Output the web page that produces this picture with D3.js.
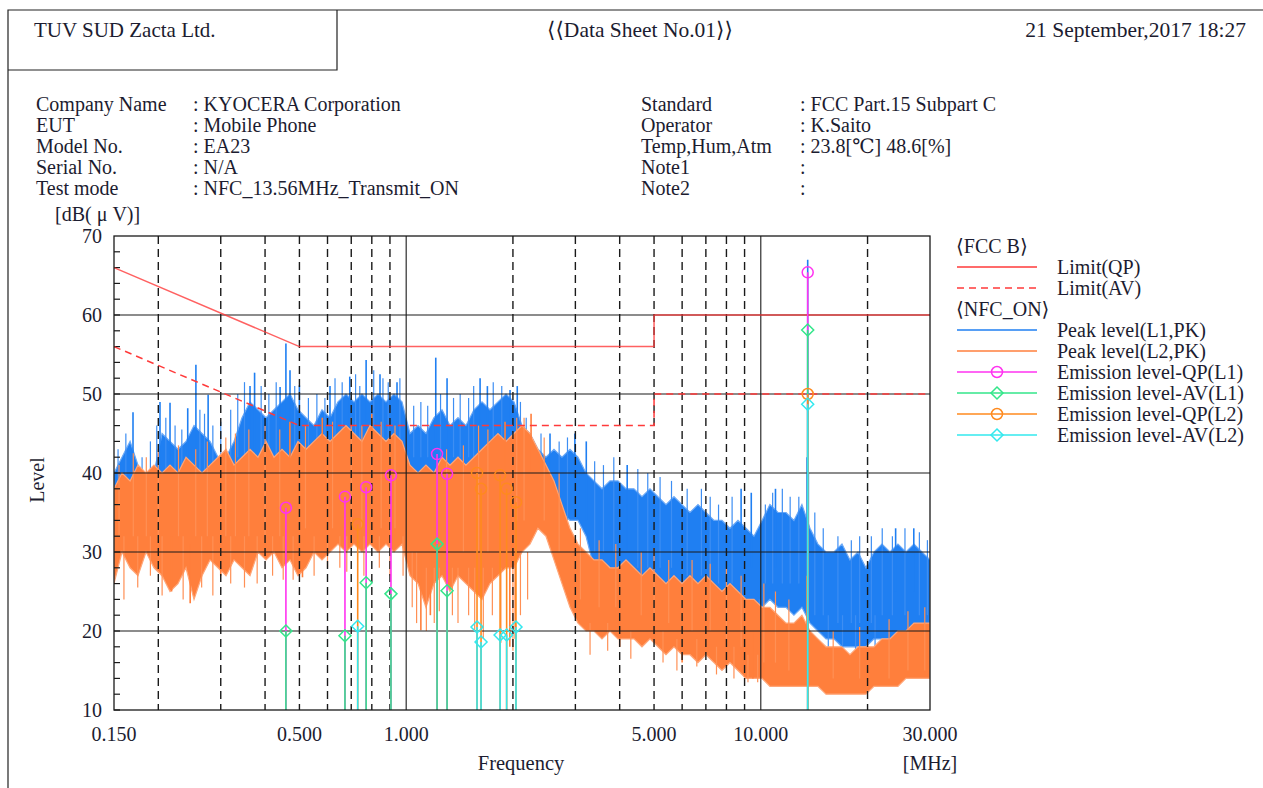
<!DOCTYPE html>
<html>
<head>
<meta charset="utf-8">
<script src="https://cdn.jsdelivr.net/npm/d3@7"></script>
<style>
  body { margin: 0; background: #fff; }
  svg { display: block; }
  text { font-family: "Liberation Serif", "DejaVu Serif", serif; fill: #1c1c30; }
</style>
</head>
<body>
<svg id="sheet" width="1263" height="788"></svg>
<script>
// frequency grid (MHz) for the two peak-level traces
const freqs = [
  0.150,0.158,0.1665,0.1753,0.1847,0.1945,0.2049,0.2158,0.2273,0.2394,
  0.2522,0.2656,0.2798,0.2947,0.3104,0.3270,0.3444,0.3628,0.3821,0.4025,
  0.4239,0.4465,0.4703,0.4954,0.5218,0.5496,0.5789,0.6098,0.6423,0.6765,
  0.7126,0.7506,0.7906,0.8327,0.8771,0.9239,0.9731,1.025,1.080,1.137,
  1.198,1.262,1.329,1.400,1.474,1.553,1.636,1.723,1.815,1.912,
  2.014,2.121,2.234,2.353,2.479,2.611,2.750,2.897,3.051,3.214,
  3.385,3.566,3.756,3.956,4.167,4.389,4.623,4.870,5.129,5.403,
  5.691,5.994,6.314,6.651,7.005,7.379,7.772,8.187,8.623,9.083,
  9.567,10.08,10.61,11.18,11.78,12.40,13.06,13.76,14.49,15.27,
  16.08,16.94,17.84,18.79,19.79,20.85,21.96,23.13,24.36,25.66,
  27.03,28.47,30.00
];

// Peak level L1 (blue): upper and lower edge of the noise band, dB(uV)
const l1High = [
  40,42,44,41,38,40,45,44,43,44,
  46,45,44,42,42,44,47,49,48,47,
  48,49,50,48,47,46,48,47,49,50,
  49,50,49,50,49,50,49,45,46,45,
  47,48,46,47,46,48,49,48,49,50,
  49,46,45,43,42,43,42,43,42,40,
  39,38,39,39,38,38,37,38,37,36,
  37,36,35,36,35,34,34,33,34,33,
  32,34,36,35,35,34,36,33,31,30,
  30,31,29,30,28,30,31,30,31,30,
  31,30,29
];
const l1Low = [
  36,38,39,35,33,34,36,37,32,36,
  38,37,37,36,37,39,41,42,41,39,
  40,41,40,39,39,40,40,41,40,41,
  41,42,41,42,41,42,41,39,40,39,
  40,40,40,41,40,41,41,41,42,42,
  41,40,38,36,35,35,35,34,34,32,
  28,27,27,27,26,26,26,26,25,25,
  25,25,24,24,24,24,23,23,23,23,
  22,23,24,23,23,22,23,21,20,19,
  19,18,18,18,18,19,19,19,20,20,
  20,20,20
];

// Peak level L2 (orange)
const l2High = [
  38,40,39,41,40,41,40,41,40,42,
  41,40,41,42,43,41,42,43,42,44,
  42,43,42,44,43,44,45,44,45,46,
  45,44,46,45,44,45,44,41,40,41,
  40,42,41,42,41,42,43,44,45,44,
  45,46,45,43,41,39,36,33,31,30,
  29,29,28,28,29,28,27,28,27,26,
  27,26,27,26,27,26,25,26,25,24,
  24,23,23,22,21,21,22,20,19,18,
  18,18,17,18,18,18,19,19,20,20,
  21,21,21
];
const l2Low = [
  26,30,28,27,30,28,27,25,26,28,
  24,27,29,28,27,29,28,27,30,29,
  30,28,29,27,28,30,29,30,31,30,
  31,30,31,30,31,30,31,27,26,23,
  26,27,25,27,26,25,24,26,27,28,
  28,30,31,33,32,29,26,23,21,20,
  20,19,20,19,19,19,18,19,18,17,
  18,17,17,16,17,16,15,16,15,14,
  14,14,13,13,13,13,13,13,13,12,
  12,12,12,12,12,13,13,13,13,14,
  14,14,14
];

// narrow excursions of the traces [MHz, from dB, to dB]
const l1Spikes = [
  [0.1697,40,47.7],[0.2022,40,49],[0.2158,40,48.9],[0.2421,40,48.2],[0.2553,40,53.7],
  [0.2764,40,49.9],[0.3628,42,51],[0.3737,42,52.7],[0.4410,42,50.9],[0.458,42,56.4],
  [0.4703,42,53],[0.4998,42,51.1],[0.6098,42,51],[0.6933,42,52.2],[0.771,42,54.3],
  [0.8437,42,52.5],[0.9422,42,51.5],[1.2118,42,54.6],[1.304,42,52],[1.6159,42,52],
  [1.6943,42,51],[1.9628,42,50.5],[2.057,42,51],[2.5445,38,45],[2.99,38,45],
  [3.22,34,44],[4.2,30,41],[8.8,28,38],[9.4,28,37.5],[11.0,28,38],
  [13.50,22,42],[13.56,22,67],[13.62,22,40],[24,25,33],[27,25,33]
];
const l1Fine = [
  [0.154,38,43],[0.162,38,45],[0.180,36,42],[0.190,36,44],[0.198,38,46],[0.210,38,47],
  [0.223,38,46],[0.233,38,45.5],[0.262,40,48],[0.270,40,47.5],[0.285,40,46],[0.300,40,46.5],
  [0.320,40,48],[0.335,42,50],[0.350,42,51.5],[0.390,42,51],[0.410,42,50],[0.430,42,51.5],
  [0.485,42,51],[0.53,42,49.5],[0.56,42,50],[0.59,42,49.5],[0.63,42,52],[0.66,42,51.5],
  [0.72,42,52.5],[0.74,42,51],[0.81,42,53],[0.86,42,52],[0.89,42,51.5],[0.96,42,52],
  [1.05,42,48.5],[1.10,42,49],[1.15,42,48.5],[1.25,42,50],[1.36,42,49.5],[1.42,42,50],
  [1.50,42,49.5],[1.55,42,51],[1.76,42,51.5],[1.86,42,51],[2.10,40,49],[2.18,40,47],
  [2.40,36,45],[2.70,34,44],[2.85,34,44.5],[3.40,30,41.5],[3.60,30,41],[3.85,30,42],
  [4.5,28,40.5],[4.8,28,40],[5.2,28,39.5],[5.6,28,39],[6.2,27,38],[6.8,27,38],
  [7.2,26,37],[7.6,26,36],[8.3,26,37],[10.3,26,36],[10.8,26,37.5],[11.5,26,38],
  [12.1,26,37],[12.8,26,37],[14.2,22,35],[15.0,22,33],[16.5,21,32],[18.0,21,31.5],
  [19.0,21,32],[20.5,21,32],[22.0,22,33],[23.5,22,32],[25.5,22,33],[28.0,22,32.5],
  [29.5,22,31.5],[15.5,17,22],[17.0,16.5,22],[18.5,17,22],[21,17.5,22],[8.0,21,25],
  [9.9,20,24],[7.0,22,26],[4.4,23,28]
];
const l2Spikes = [
  [0.47,40,46.5],[0.58,40,47],[0.80,40,47.5],[1.9,40,46.5],[2.25,40,47.5],
  [0.218,25,32],[0.246,23.5,31],[0.300,27,32],[0.510,26.8,32],[1.100,20.1,30],
  [1.170,22,30],[1.960,18,30],[2.030,19,30],[4.0,18,24],[6.0,16,22],
  [9.0,14.2,20],[9.5,14,20],[13.50,14,27],[13.56,14,29.5]
];
const l2Fine = [
  [0.155,32,41],[0.170,32,42.5],[0.185,32,42],[0.200,32,43],[0.228,32,43.5],[0.255,32,43],
  [0.275,32,44],[0.310,32,44.5],[0.33,32,45],[0.36,32,45.5],[0.40,32,46],[0.44,32,45.5],
  [0.52,33,46],[0.62,33,46.5],[0.70,33,47],[0.75,33,46],[0.85,33,46.5],[0.93,33,46],
  [1.3,30,43],[1.45,30,43.5],[1.60,30,46],[1.70,30,45.5],[2.05,34,47],[2.15,34,47],
  [2.45,34,44.5],[2.7,30,40],[3.1,24,33],[3.5,23,31.5],[3.9,23,31],[4.6,22,30],
  [5.0,22,30.5],[5.5,21,29],[6.4,20,29],[7.2,20,28.5],[8.0,19,28],[8.8,18,27],
  [10.2,16,26],[11.0,16,25],[12.0,15,24],[16,14,20],[19,14,20.5],[23,14,21.5],
  [26,15,22.5],[29,15,23],
  [0.16,24,32],[0.175,25.5,32],[0.19,27,32],[0.205,24.5,32],[0.235,24,32],[0.265,25.5,32],
  [0.285,24.5,32],[0.32,26,32],[0.35,25.5,32],[0.38,26,32],[0.42,27,32],[0.45,26.5,32],
  [0.48,26.5,32],[0.55,27,32],[0.60,28,32],[0.65,28,32],[0.68,27.5,32],[0.76,27,32],
  [0.84,28,32],[0.90,27,32],[0.98,27,32],[1.04,23,30],[1.07,21,30],[1.14,20,28],
  [1.20,21,28],[1.24,22.5,28],[1.35,22,28],[1.40,21,28],[1.50,22,28],[1.56,20,28],
  [1.65,19,28],[1.75,22,28],[1.85,18.5,28],[2.00,17.5,28],[2.10,22,30],[2.20,24,30],
  [3.3,17,21],[3.7,17.5,21],[4.3,16.5,20],[5.3,16,20],[5.8,15,19],[6.6,15.5,19],
  [7.5,14.5,18],[8.4,14,18],[9.2,13.5,17],[9.8,13.5,17]
];

// final measurements
const l1Freqs = [0.458, 0.672, 0.771, 0.906, 1.222, 1.304, 13.56];
const l1QP = [35.6, 37.0, 38.2, 39.7, 42.4, 39.9, 65.4];
const l1AV = [20.0, 19.4, 26.1, 24.7, 31.0, 25.1, 58.1];
const l2Freqs = [0.730, 1.584, 1.626, 1.840, 1.920, 2.040, 13.56];
const l2QP = [33.5, 40.0, 38.0, 39.7, 38.0, 36.3, 50.0];
const l2AV = [20.6, 20.5, 18.6, 19.5, 19.5, 20.5, 48.7];

// FCC class B conducted limits
const limitQP = [[0.15,66],[0.5,56],[5,56],[5,60],[30,60]];
const limitAV = [[0.15,56],[0.5,46],[5,46],[5,50],[30,50]];

const yTicks = [10, 20, 30, 40, 50, 60, 70];
const xTicks = [0.15, 0.5, 1, 5, 10, 30];
const xTickLabels = ["0.150", "0.500", "1.000", "5.000", "10.000", "30.000"];
const minorFreqs = [0.2,0.3,0.4,0.5,0.6,0.7,0.8,0.9,2,3,4,5,6,7,8,9,20];
const majorFreqs = [1, 10];

const infoLeft = [
  ["Company Name", ": KYOCERA Corporation"],
  ["EUT", ": Mobile Phone"],
  ["Model No.", ": EA23"],
  ["Serial No.", ": N/A"],
  ["Test mode", ": NFC_13.56MHz_Transmit_ON"],
];
const infoRight = [
  ["Standard", ": FCC Part.15 Subpart C"],
  ["Operator", ": K.Saito"],
  ["Temp,Hum,Atm", ": 23.8[℃] 48.6[%]"],
  ["Note1", ":"],
  ["Note2", ":"],
];

const colors = {
  limit: "#ff3a3a",
  l1: "#1f7ff2",
  l2: "#ff7f3c",
  qpL1: "#ff33f0",
  avL1: "#33e68a",
  qpL2: "#ff8a1e",
  avL2: "#33e8ee",
};

const svg = d3.select("#sheet");

// page frame and header
svg.append("path")
  .attr("d", "M8,788V10H1263M8,70H337V10")
  .attr("fill", "none").attr("stroke", "#222").attr("stroke-width", 1.2);

svg.append("text").attr("x", 34).attr("y", 37).attr("font-size", 21).text("TUV SUD Zacta Ltd.");
svg.append("text").attr("x", 640).attr("y", 37).attr("font-size", 21.5).attr("text-anchor", "middle")
  .text("⟨⟨Data Sheet No.01⟩⟩");
svg.append("text").attr("x", 1246).attr("y", 37).attr("font-size", 21.5).attr("text-anchor", "end")
  .text("21 September,2017 18:27");

const info = (rows, x0, x1) => {
  rows.forEach(([k, v], i) => {
    svg.append("text").attr("x", x0).attr("y", 111 + i * 21).attr("font-size", 20).text(k);
    svg.append("text").attr("x", x1).attr("y", 111 + i * 21).attr("font-size", 20).text(v);
  });
};
info(infoLeft, 36, 193);
info(infoRight, 641, 800);

// plot
const pl = 114, pr = 930, pt = 236, pb = 710;
const x = d3.scaleLog().domain([0.15, 30]).range([pl, pr]);
const y = d3.scaleLinear().domain([10, 70]).range([pb, pt]);

svg.append("defs").append("clipPath").attr("id", "plotclip")
  .append("rect").attr("x", pl).attr("y", pt).attr("width", pr - pl).attr("height", pb - pt);

const plot = svg.append("g").attr("clip-path", "url(#plotclip)");

const band = (hi, lo) => d3.area()
  .x((d, i) => x(freqs[i]))
  .y0((d, i) => y(lo[i]))
  .y1((d, i) => y(hi[i]))(freqs);

const spikes = (list, color, w) => plot.append("g")
  .selectAll("line").data(list).join("line")
  .attr("x1", (d) => x(d[0])).attr("x2", (d) => x(d[0]))
  .attr("y1", (d) => y(d[1])).attr("y2", (d) => y(d[2]))
  .attr("stroke", color).attr("stroke-width", w);

plot.append("path").attr("d", band(l1High, l1Low))
  .attr("fill", colors.l1).attr("stroke", "#6aa8f6").attr("stroke-width", 1.2);
spikes(l1Fine, "#3d8ef3", 1.2);
spikes(l1Spikes, colors.l1, 1.6);
plot.append("path").attr("d", band(l2High, l2Low))
  .attr("fill", colors.l2).attr("stroke", "#ffa678").attr("stroke-width", 1.2);
spikes(l2Fine, "#ff9055", 1.2);
spikes(l2Spikes, colors.l2, 1.6);

// grid
const grid = svg.append("g").attr("stroke", "#1a1a1a");
grid.selectAll(".minor").data(minorFreqs).join("line")
  .attr("x1", (d) => x(d)).attr("x2", (d) => x(d)).attr("y1", pt).attr("y2", pb)
  .attr("stroke-width", 1.4).attr("stroke-dasharray", "8,5");
grid.selectAll(".major").data(majorFreqs).join("line")
  .attr("x1", (d) => x(d)).attr("x2", (d) => x(d)).attr("y1", pt).attr("y2", pb)
  .attr("stroke-width", 1.1);
grid.selectAll(".hline").data(yTicks.slice(1, -1)).join("line")
  .attr("x1", pl).attr("x2", pr).attr("y1", (d) => y(d)).attr("y2", (d) => y(d))
  .attr("stroke-width", 1.1);
grid.selectAll(".ytick").data(d3.range(10, 70, 2)).join("line")
  .attr("x1", pl).attr("x2", pl + 6).attr("y1", (d) => y(d)).attr("y2", (d) => y(d))
  .attr("stroke-width", 1.2);

// limits
const limitLine = d3.line().x((d) => x(d[0])).y((d) => y(d[1]));
svg.append("path").attr("d", limitLine(limitQP)).attr("fill", "none")
  .attr("stroke", colors.limit).attr("stroke-width", 1.5).attr("stroke-opacity", 0.8);
svg.append("path").attr("d", limitLine(limitAV)).attr("fill", "none")
  .attr("stroke", colors.limit).attr("stroke-width", 1.5).attr("stroke-dasharray", "7,5");

// emission markers
const circle = (g, cx, cy, color) => g.append("circle").attr("cx", cx).attr("cy", cy).attr("r", 5.5)
  .attr("fill", "none").attr("stroke", color).attr("stroke-width", 1.5);
const diamond = (g, cx, cy, color) => g.append("path")
  .attr("d", `M${cx},${cy - 6}L${cx + 6},${cy}L${cx},${cy + 6}L${cx - 6},${cy}Z`)
  .attr("fill", "none").attr("stroke", color).attr("stroke-width", 1.5);

const marks = svg.append("g");
const stems = (fs, vs, color, shape) => fs.forEach((f, i) => {
  marks.append("line").attr("x1", x(f)).attr("x2", x(f)).attr("y1", y(10)).attr("y2", y(vs[i]))
    .attr("stroke", color).attr("stroke-width", 1.6);
  shape(marks, x(f), y(vs[i]), color);
});
stems(l1Freqs, l1QP, colors.qpL1, circle);
stems(l1Freqs, l1AV, colors.avL1, diamond);
stems(l2Freqs, l2QP, colors.qpL2, circle);
stems(l2Freqs, l2AV, colors.avL2, diamond);

// frame
svg.append("rect").attr("x", pl).attr("y", pt).attr("width", pr - pl).attr("height", pb - pt)
  .attr("fill", "none").attr("stroke", "#1a1a1a").attr("stroke-width", 1.3);

// axis labels
svg.selectAll(".ylab").data(yTicks).join("text")
  .attr("x", 102).attr("y", (d) => y(d) + 7).attr("text-anchor", "end").attr("font-size", 20)
  .text((d) => d);
svg.selectAll(".xlab").data(xTicks).join("text")
  .attr("x", (d) => x(d)).attr("y", 741).attr("text-anchor", "middle").attr("font-size", 20)
  .text((d, i) => xTickLabels[i]);
svg.append("text").attr("x", 521).attr("y", 770).attr("text-anchor", "middle").attr("font-size", 20.5).text("Frequency");
svg.append("text").attr("x", 930).attr("y", 770).attr("text-anchor", "middle").attr("font-size", 20).text("[MHz]");
svg.append("text").attr("x", 55).attr("y", 221).attr("font-size", 20).text("[dB( μ V)]");
svg.append("text").attr("transform", "translate(44,480) rotate(-90)").attr("text-anchor", "middle")
  .attr("font-size", 20).text("Level");

// legend
const legendRows = [
  { label: "⟨FCC B⟩", head: true },
  { label: "Limit(QP)", color: colors.limit },
  { label: "Limit(AV)", color: colors.limit, dash: "7,5" },
  { label: "⟨NFC_ON⟩", head: true },
  { label: "Peak level(L1,PK)", color: colors.l1 },
  { label: "Peak level(L2,PK)", color: colors.l2 },
  { label: "Emission level-QP(L1)", color: colors.qpL1, mark: circle },
  { label: "Emission level-AV(L1)", color: colors.avL1, mark: diamond },
  { label: "Emission level-QP(L2)", color: colors.qpL2, mark: circle },
  { label: "Emission level-AV(L2)", color: colors.avL2, mark: diamond },
];
const legend = svg.append("g");
legendRows.forEach((r, i) => {
  const ly = 246 + i * 21;
  if (r.head) {
    legend.append("text").attr("x", 956).attr("y", ly + 7).attr("font-size", 20).text(r.label);
    return;
  }
  legend.append("line").attr("x1", 957).attr("x2", 1037).attr("y1", ly).attr("y2", ly)
    .attr("stroke", r.color).attr("stroke-width", 1.5).attr("stroke-dasharray", r.dash || null);
  if (r.mark) r.mark(legend, 997, ly, r.color);
  legend.append("text").attr("x", 1057).attr("y", ly + 7).attr("font-size", 20).text(r.label);
});
</script>
</body>
</html>
